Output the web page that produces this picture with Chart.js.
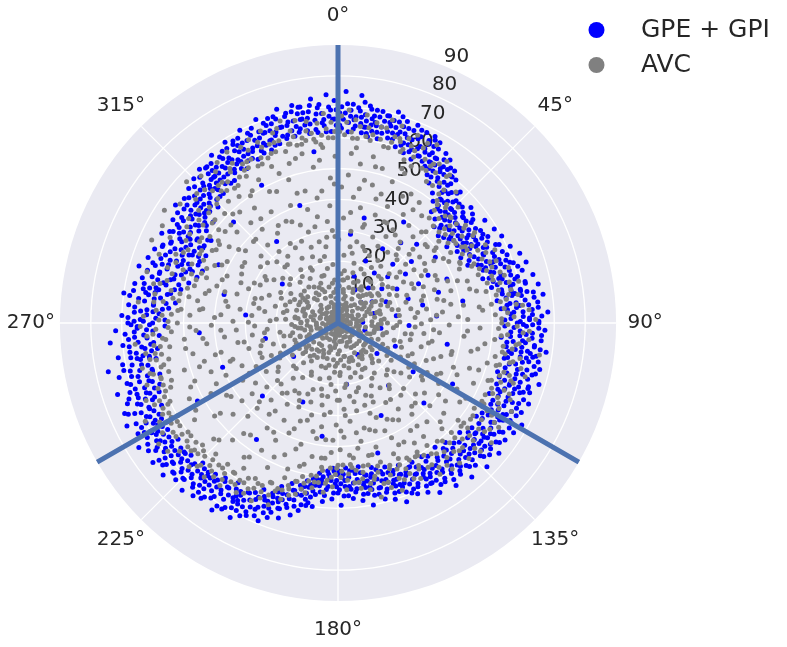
<!DOCTYPE html>
<html>
<head>
<meta charset="utf-8">
<title>Polar scatter</title>
<script src="https://cdn.jsdelivr.net/npm/chart.js@4"></script>
<style>
  body { margin: 0; background: #fff; }
  canvas { display: block; }
</style>
</head>
<body>
<canvas id="polarChart" width="787" height="647"></canvas>
<script>
const angleTicks = [0, 45, 90, 135, 180, 225, 270, 315];
const radialTicks = [10, 20, 30, 40, 50, 60, 70, 80, 90];
const spokeAngles = [0, 120, 240];
const seriesNames = ['GPE + GPI', 'AVC'];

const blueRing = [
  0,66,1,63,1,70,2,68,2,75,3,62,3,65,4,71,5,64,5,67,6,69,6,74,7,62,7,72,8,66,8,64,9,70,9,61,
  10,63,10,68,11,65,12,70,12,61,13,67,13,63,14,69,15,62,15,66,16,71,16,64,17,68,18,60,18,65,19,69,
  20,62,20,67,21,59,22,64,22,69,23,61,24,66,24,58,25,63,25,68,26,60,27,65,27,62,28,67,29,58,29,63,
  30,60,30,65,31,56,31,62,32,58,33,63,33,54,34,59,34,61,35,56,36,62,36,52,37,57,38,60,38,50,39,55,39,58,
  40,47,40,52,41,56,41,49,42,53,43,46,43,58,44,50,44,55,45,44,45,52,46,48,47,55,47,45,48,51,49,43,49,57,
  50,47,50,53,51,44,51,56,52,50,53,45,53,54,54,48,55,58,55,43,56,51,57,46,57,55,58,49,59,59,59,45,59,52,
  60,47,60,56,61,51,62,60,62,45,63,54,64,49,64,58,65,52,66,46,66,61,67,55,68,50,68,59,69,53,69,63,
  70,56,70,50,71,60,72,53,72,64,73,49,73,58,74,62,75,55,75,52,76,65,76,59,77,51,78,62,78,57,79,66,79,54,
  80,60,80,54,81,64,81,57,82,52,82,67,83,61,84,55,84,65,85,58,85,53,86,63,87,68,87,56,88,60,88,66,89,54,89,62,
  90,58,90,65,91,54,91,61,92,67,93,56,93,63,94,59,95,53,95,66,96,61,96,57,97,64,98,55,98,68,99,60,99,63,
  100,57,100,64,101,66,102,55,102,61,103,59,103,67,104,63,105,56,105,65,106,60,107,54,107,68,108,62,109,57,109,65,
  110,59,110,66,111,55,111,63,112,61,113,67,113,57,114,64,115,54,115,60,116,66,117,58,117,63,118,56,119,61,119,68,
  120,57,120,65,121,61,122,55,122,67,123,59,124,63,124,54,125,66,126,58,126,61,127,64,128,55,128,60,129,67,129,57,
  130,62,130,55,131,65,132,59,132,53,133,63,134,57,134,67,135,60,136,54,136,64,137,58,138,62,138,52,139,56,139,66,
  140,60,140,53,141,63,142,57,142,51,143,61,144,55,144,65,145,59,146,52,146,62,147,56,148,60,148,51,149,58,149,64,
  150,54,150,60,151,57,152,51,152,62,153,55,154,59,154,52,155,61,156,54,156,57,157,50,158,59,158,53,159,62,159,56,
  160,52,160,58,161,55,162,49,162,60,163,53,164,57,164,50,165,59,166,52,166,55,167,48,168,57,168,51,169,60,169,54,
  170,50,170,56,171,53,172,47,172,58,173,51,174,55,174,48,175,57,176,50,176,53,177,47,178,56,178,49,179,59,179,52,
  180,49,180,55,181,52,182,47,182,57,183,50,184,54,184,48,185,58,186,51,186,55,187,49,188,53,188,60,189,51,189,57,
  190,54,190,60,191,52,192,57,192,62,193,54,194,59,194,64,195,56,196,61,196,54,197,66,198,58,198,63,199,60,199,56,
  200,62,200,67,201,59,202,64,202,69,203,61,204,66,204,59,205,63,206,68,206,61,207,70,208,65,208,62,209,67,209,72,
  210,63,210,69,211,66,212,71,212,61,213,68,214,64,214,73,215,66,216,70,216,62,217,68,218,72,218,65,219,69,219,63,
  220,67,220,73,221,64,222,70,222,66,223,74,224,68,224,63,225,71,226,66,226,73,227,69,228,64,228,72,229,67,229,75,
  230,70,230,65,231,73,232,67,232,71,233,75,234,64,234,69,235,72,236,66,236,74,237,70,238,65,238,76,239,68,239,72,
  240,64,240,70,241,74,242,67,242,72,243,65,244,76,244,69,245,63,246,72,246,67,247,75,248,64,248,70,249,73,249,62,
  250,66,250,72,251,61,252,69,252,75,253,64,254,71,254,60,255,67,256,73,256,62,257,69,258,76,258,65,259,71,259,60,
  260,66,260,62,261,72,262,59,262,68,263,64,264,70,264,60,265,74,266,66,266,58,267,69,268,62,268,72,269,56,269,65,
  270,68,270,60,271,56,271,64,272,70,273,58,273,66,274,62,275,55,275,68,276,60,277,65,277,53,278,70,278,58,279,63,279,67,
  280,55,280,64,281,60,281,67,282,52,283,58,283,65,284,62,285,50,285,55,286,67,286,60,287,53,288,63,288,48,289,58,289,65,
  290,51,290,61,291,56,291,47,292,64,292,54,293,59,294,49,294,62,295,56,295,52,296,60,297,48,297,64,298,54,298,58,299,61,299,50,
  300,56,300,50,301,60,301,53,302,63,303,57,303,49,304,61,305,55,305,52,306,59,306,65,307,54,308,62,308,57,309,52,309,64,
  310,58,310,63,311,55,312,60,312,65,313,57,314,62,314,54,315,66,315,59,316,63,317,56,317,61,318,67,318,58,319,64,319,60,
  320,62,320,66,321,58,322,64,322,60,323,68,324,62,324,57,325,65,326,60,326,67,327,63,328,59,328,69,329,65,329,61,
  330,64,330,68,331,60,332,66,332,62,333,70,334,63,334,59,335,67,336,61,336,69,337,65,338,62,338,71,339,66,339,60,
  340,68,340,63,341,70,342,65,342,61,343,69,344,66,344,72,345,63,346,70,346,67,347,62,348,72,348,65,349,69,349,64,
  350,67,350,71,351,63,352,69,352,65,353,73,354,62,354,68,355,71,356,66,356,64,357,74,358,69,358,62,359,72,359,66
];

// Second reading of the dense band, filling between the first one
const blueBand = [
  .5,68,.5,64,1.5,66,2.5,71,3.5,67,3.5,69,4.5,63,4.5,66,5.5,70,6.5,65,6.5,67,7.5,68,7.5,64,8.5,71,8.5,62,9.5,67,9.5,65,
  10.5,66,10.5,70,11.5,63,11.5,68,12.5,65,13.5,69,14.5,64,14.5,67,15.5,68,16.5,62,16.5,66,17.5,70,17.5,64,18.5,67,19.5,61,19.5,65,
  20.5,64,21.5,67,21.5,62,22.5,60,23.5,65,23.5,68,24.5,62,25.5,60,26.5,66,26.5,63,27.5,68,27.5,59,28.5,62,28.5,65,29.5,60,29.5,67,
  30.5,58,30.5,62,31.5,60,32.5,65,32.5,56,33.5,60,34.5,57,34.5,64,35.5,59,35.5,61,36.5,55,37.5,60,37.5,62,38.5,54,38.5,57,39.5,52,39.5,60,
  40.5,50,40.5,55,41.5,52,42.5,49,42.5,57,43.5,54,44.5,48,44.5,52,45.5,50,45.5,55,46.5,52,46.5,46,47.5,49,48.5,54,48.5,47,49.5,50,49.5,53,
  50.5,50,51.5,48,51.5,53,52.5,46,52.5,55,53.5,50,54.5,52,54.5,46,55.5,48,55.5,54,56.5,50,57.5,52,57.5,48,58.5,55,58.5,47,59.5,50,59.5,54,
  60.5,52,60.5,49,61.5,55,62.5,48,62.5,53,63.5,57,64.5,52,64.5,47,65.5,55,65.5,50,66.5,58,67.5,52,67.5,49,68.5,56,68.5,54,69.5,51,69.5,58,
  70.5,54,70.5,59,71.5,52,71.5,57,72.5,61,73.5,55,73.5,51,74.5,58,74.5,54,75.5,60,76.5,56,76.5,53,77.5,62,77.5,58,78.5,54,79.5,60,79.5,57,
  80.5,58,80.5,62,81.5,55,81.5,60,82.5,64,83.5,58,83.5,56,84.5,62,84.5,59,85.5,55,85.5,65,86.5,60,86.5,57,87.5,63,88.5,56,88.5,62,89.5,59,89.5,65,
  90.5,60,90.5,63,91.5,57,91.5,65,92.5,59,93.5,61,93.5,66,94.5,56,94.5,63,95.5,60,96.5,64,96.5,55,97.5,60,97.5,66,98.5,58,98.5,62,99.5,56,99.5,65,
  100.5,60,100.5,62,101.5,56,101.5,63,102.5,65,103.5,57,104.5,60,104.5,66,105.5,62,106.5,57,106.5,64,107.5,60,108.5,55,108.5,65,109.5,59,109.5,62,
  110.5,61,110.5,64,111.5,58,112.5,56,112.5,65,113.5,60,114.5,62,114.5,57,115.5,64,116.5,60,116.5,56,117.5,65,118.5,59,118.5,62,119.5,57,119.5,64,
  120.5,60,120.5,62,121.5,57,121.5,65,122.5,60,123.5,56,123.5,64,124.5,60,125.5,62,125.5,56,126.5,65,127.5,59,127.5,61,128.5,63,128.5,57,129.5,60,129.5,64,
  130.5,58,130.5,60,131.5,62,131.5,56,132.5,64,133.5,59,133.5,61,134.5,55,135.5,62,135.5,58,136.5,60,137.5,63,137.5,55,138.5,59,139.5,61,139.5,54,
  140.5,57,140.5,62,141.5,55,141.5,59,142.5,60,143.5,54,143.5,63,144.5,58,145.5,56,145.5,61,146.5,58,147.5,53,147.5,62,148.5,57,149.5,55,149.5,60,
  150.5,56,150.5,58,151.5,53,151.5,60,152.5,55,153.5,58,153.5,52,154.5,56,155.5,53,155.5,59,156.5,60,157.5,56,157.5,53,158.5,57,159.5,54,159.5,51,
  160.5,54,160.5,56,161.5,51,161.5,58,162.5,54,163.5,56,163.5,51,164.5,53,165.5,55,165.5,49,166.5,57,167.5,53,167.5,50,168.5,55,169.5,50,169.5,52,
  170.5,52,170.5,54,171.5,49,171.5,56,172.5,52,173.5,54,173.5,49,174.5,52,175.5,54,175.5,48,176.5,56,177.5,51,177.5,53,178.5,50,179.5,54,179.5,48,
  180.5,51,180.5,53,181.5,48,181.5,55,182.5,51,183.5,53,183.5,49,184.5,56,185.5,52,185.5,50,186.5,53,187.5,56,187.5,51,188.5,55,189.5,53,189.5,59,
  190.5,56,190.5,58,191.5,54,191.5,60,192.5,55,193.5,57,193.5,61,194.5,56,195.5,59,195.5,62,196.5,58,197.5,60,197.5,63,198.5,61,199.5,58,199.5,65,
  200.5,60,200.5,64,201.5,62,201.5,66,202.5,62,203.5,65,203.5,68,204.5,62,205.5,66,205.5,69,206.5,64,207.5,62,207.5,67,208.5,69,209.5,64,209.5,66,
  210.5,65,210.5,67,211.5,63,211.5,70,212.5,66,213.5,64,213.5,71,214.5,67,215.5,63,215.5,69,216.5,66,217.5,64,217.5,71,218.5,67,219.5,65,219.5,71,
  220.5,69,220.5,65,221.5,71,221.5,67,222.5,64,223.5,69,223.5,66,224.5,71,225.5,65,225.5,68,226.5,70,227.5,66,227.5,72,228.5,68,229.5,65,229.5,70,
  230.5,67,230.5,72,231.5,69,231.5,65,232.5,73,233.5,67,233.5,70,234.5,66,235.5,68,235.5,71,236.5,69,237.5,67,237.5,73,238.5,69,239.5,66,239.5,70,
  240.5,67,240.5,72,241.5,68,241.5,65,242.5,70,243.5,68,243.5,73,244.5,66,245.5,70,245.5,67,246.5,74,247.5,69,247.5,65,248.5,67,249.5,69,249.5,65,
  250.5,69,250.5,63,251.5,66,251.5,71,252.5,63,253.5,67,253.5,70,254.5,64,255.5,62,255.5,69,256.5,66,257.5,63,257.5,71,258.5,68,259.5,62,259.5,65,
  260.5,68,260.5,64,261.5,61,261.5,66,262.5,63,263.5,68,263.5,61,264.5,65,265.5,62,265.5,68,266.5,63,267.5,60,267.5,66,268.5,65,269.5,61,269.5,67,
  270.5,63,270.5,66,271.5,59,271.5,68,272.5,62,273.5,60,273.5,64,274.5,57,274.5,66,275.5,60,276.5,63,276.5,56,277.5,60,277.5,68,278.5,62,279.5,56,279.5,60,
  280.5,59,280.5,62,281.5,54,281.5,64,282.5,57,283.5,60,283.5,53,284.5,56,285.5,60,285.5,64,286.5,55,287.5,58,287.5,62,288.5,52,288.5,60,289.5,55,289.5,50,
  290.5,54,290.5,58,291.5,52,291.5,60,292.5,49,293.5,55,293.5,62,294.5,53,294.5,58,295.5,50,295.5,60,296.5,55,296.5,52,297.5,57,298.5,51,298.5,62,299.5,55,299.5,59,
  300.5,53,300.5,58,301.5,56,301.5,61,302.5,50,303.5,54,303.5,60,304.5,56,304.5,63,305.5,58,306.5,53,306.5,62,307.5,58,307.5,60,308.5,55,309.5,60,309.5,56,
  310.5,60,310.5,56,311.5,62,311.5,58,312.5,56,313.5,60,313.5,64,314.5,58,315.5,62,315.5,56,316.5,60,316.5,65,317.5,59,318.5,62,318.5,56,319.5,62,319.5,66,
  320.5,64,320.5,60,321.5,62,321.5,66,322.5,57,323.5,63,323.5,60,324.5,66,325.5,63,325.5,59,326.5,64,327.5,61,327.5,67,328.5,62,329.5,67,329.5,58,
  330.5,66,330.5,62,331.5,64,331.5,68,332.5,60,333.5,66,333.5,62,334.5,68,335.5,63,335.5,65,336.5,60,337.5,67,337.5,63,338.5,66,339.5,69,339.5,63,
  340.5,66,340.5,61,341.5,68,341.5,64,342.5,70,343.5,63,343.5,66,344.5,62,345.5,69,345.5,66,346.5,64,347.5,70,347.5,67,348.5,63,349.5,67,349.5,71,
  350.5,65,350.5,69,351.5,67,351.5,62,352.5,71,353.5,66,353.5,63,354.5,70,355.5,65,355.5,68,356.5,62,357.5,67,357.5,70,358.5,66,359.5,64,359.5,69
];

// Stray blue points well inside the ring
const blueInner = [
  8,29,14,35,19,16,24,22,27,12,31,28,33,39,36,20,38,33,41,15,43,26,45,36,47,22,48,10,50,31,52,18,54,27,56,38,
  58,13,60,22,62,33,64,29,66,17,68,38,71,24,73,34,75,12,78,28,80,41,83,19,86,32,88,8,92,23,97,14,101,36,105,9,
  112,20,118,42,123,29,128,16,133,38,141,26,148,12,155,33,163,44,172,20,188,37,204,28,215,46,226,34,233,18,241,52,
  249,40,258,24,266,45,275,30,284,38,296,43,305,22,314,47,323,33,331,51,342,40,352,56
];

const grayRing = [
  0,63,1,67,2,61,3,69,4,62,5,66,6,60,8,68,9,64,10,60,11,66,13,61,14,65,15,68,16,59,17,63,18,67,19,62,
  20,59,21,64,22,57,23,66,24,61,25,56,26,63,28,60,29,66,30,57,31,60,32,54,33,58,34,63,36,56,37,60,38,53,39,51,
  40,50,41,45,42,57,43,51,44,47,45,49,46,54,47,50,48,44,49,48,50,50,51,42,52,47,53,51,54,44,55,49,56,46,57,52,58,43,59,48,
  60,50,61,46,62,54,63,48,64,44,65,56,66,51,67,47,68,53,69,49,70,53,71,48,72,58,73,52,74,56,75,50,76,54,77,60,78,49,79,57,
  80,52,81,59,82,55,83,50,84,58,85,54,86,62,87,51,88,57,89,64,90,53,91,58,92,52,93,60,94,55,95,62,96,51,97,58,98,54,99,66,
  100,54,101,60,102,52,103,57,104,61,105,53,106,63,107,58,108,55,109,60,110,56,111,52,112,58,113,54,114,61,115,57,116,53,117,63,118,59,119,54,
  120,54,121,58,122,52,123,62,124,56,125,60,126,53,127,57,128,63,129,54,130,52,131,58,132,62,133,55,134,51,135,57,136,61,137,53,138,56,139,60,
  140,50,141,56,142,60,143,53,144,49,145,57,146,59,147,51,148,55,149,50,150,50,151,54,152,57,153,49,154,56,155,52,156,48,157,55,158,51,159,58,
  160,49,161,52,162,56,163,47,164,54,165,50,166,58,167,52,168,47,169,55,170,47,171,51,172,54,173,48,174,52,175,46,176,49,177,54,178,46,179,50,
  180,46,181,49,182,53,183,47,184,51,185,55,186,48,187,52,188,50,189,54,190,50,191,56,192,53,193,51,194,57,195,53,196,58,197,55,198,60,199,53,
  200,57,201,63,202,60,203,56,204,62,205,58,206,64,207,60,208,57,209,63,210,58,211,64,212,60,213,56,214,62,215,59,216,65,217,61,218,58,219,64,
  220,60,221,66,222,62,223,58,224,64,225,61,226,67,227,62,228,59,229,63,230,60,231,66,232,62,233,69,234,60,235,64,236,70,237,61,238,67,239,63,
  240,60,241,66,242,62,243,70,244,63,245,60,246,65,247,61,248,67,249,58,250,62,251,57,252,65,253,60,254,57,255,63,256,59,257,65,258,56,259,62,
  260,58,261,63,262,55,263,60,264,66,265,57,266,62,267,54,268,59,269,64,270,52,271,58,272,63,273,54,274,59,275,51,276,65,277,57,278,52,279,60,
  280,49,281,55,282,61,283,50,284,57,285,64,286,52,287,48,288,58,289,53,290,47,291,62,292,51,293,57,294,66,295,48,296,54,297,61,298,50,299,65,
  300,47,301,56,302,52,303,67,304,50,305,59,306,54,307,64,308,49,309,58,310,52,311,61,312,56,313,67,314,51,315,61,316,56,317,65,318,53,319,59,
  320,56,321,63,322,58,323,65,324,55,325,61,326,57,327,66,328,56,329,60,330,58,331,65,332,60,333,57,334,66,335,59,336,64,337,58,338,67,339,62,
  340,59,341,65,342,62,343,58,344,68,345,60,346,64,347,59,348,67,349,61,350,60,351,66,352,62,353,59,354,65,355,61,356,68,357,60,358,65,359,62
];

const grayInner = [
  2,12,3,34,4,48,5,22,6,57,7,17,7,41,8,30,8,52,9,25,9,11,9,44,11,38,12,15,12,55,13,27,14,46,15,20,15,33,16,52,17,12,17,42,18,26,19,37,
  21,14,21,49,22,30,23,19,23,41,24,53,25,24,26,36,26,11,27,46,28,18,29,32,31,21,31,41,32,13,33,34,34,47,35,17,35,28,36,39,37,11,37,23,38,44,39,31,
  41,20,41,37,42,12,43,28,44,41,45,16,46,32,46,23,47,10,48,38,49,19,49,29,51,14,51,34,52,24,53,39,54,11,54,20,55,30,56,16,57,37,58,25,59,13,59,33,
  61,19,61,41,62,27,63,12,64,35,65,21,66,43,67,15,67,30,68,24,69,38,69,10,71,17,71,33,72,44,73,23,74,11,74,38,75,28,76,18,77,46,78,14,78,35,79,24,
  81,29,81,12,82,41,83,20,84,34,85,15,85,47,86,25,87,39,88,11,88,30,89,20,91,14,91,36,92,46,93,25,94,11,94,31,95,18,96,41,97,28,98,13,98,48,99,22,
  101,31,101,16,102,44,103,24,104,38,105,12,105,50,106,28,107,19,108,35,109,45,109,11,111,22,111,40,112,14,113,31,114,48,115,25,116,12,116,37,117,18,118,28,119,44,119,33,
  121,16,121,38,122,27,123,47,124,11,124,33,125,21,126,43,127,29,128,14,129,36,129,50,131,24,131,11,132,40,133,18,134,46,135,30,136,13,136,36,137,23,138,43,139,17,139,31,
  141,38,141,12,142,27,143,46,144,20,145,34,146,14,146,42,147,25,148,37,149,17,149,30,151,44,151,11,152,23,153,35,154,15,155,41,156,28,157,19,157,46,158,33,159,12,159,25,
  161,37,161,17,162,28,163,42,164,13,165,23,166,35,167,44,167,18,168,29,169,11,169,39,171,24,171,41,172,14,173,32,174,21,175,43,176,12,176,28,177,37,178,17,179,25,179,41,
  181,13,181,33,182,22,183,42,184,16,185,29,186,38,187,12,187,44,188,24,189,34,189,18,191,27,191,44,192,14,193,36,194,22,195,48,196,31,197,12,197,41,198,19,199,27,199,50,
  201,34,201,15,202,46,203,25,204,39,205,11,205,30,206,52,207,19,208,43,209,26,209,36,211,13,211,48,212,31,213,21,214,41,215,15,215,53,216,28,217,37,218,11,218,46,219,23,
  221,33,221,17,222,51,223,27,224,42,225,12,225,36,226,20,227,55,228,31,229,45,229,15,231,25,231,40,232,12,233,50,234,33,235,18,236,56,236,28,237,43,238,13,239,36,239,22,
  241,47,241,16,242,30,243,54,244,24,245,40,246,11,246,34,247,19,248,50,249,27,249,44,251,13,251,36,252,22,253,52,254,30,254,45,255,16,256,39,257,25,258,11,258,48,259,33,
  261,19,261,43,262,28,263,13,263,37,264,50,265,23,266,33,267,46,268,15,268,27,269,41,271,12,271,34,272,22,273,48,274,17,274,38,275,28,276,44,277,14,278,32,279,24,279,46,
  281,18,281,37,282,11,283,28,284,43,285,21,286,34,287,14,287,41,288,26,289,45,289,18,291,31,291,12,292,24,293,39,294,17,295,44,296,28,297,11,297,35,298,21,299,41,299,14,
  301,27,301,46,302,18,303,36,304,12,304,25,305,43,306,31,307,15,308,38,309,23,309,47,311,13,311,33,312,44,313,21,314,38,315,28,316,11,316,49,317,18,318,34,319,25,319,43,
  321,15,321,39,322,52,323,27,324,12,324,46,325,21,326,35,327,51,328,17,329,30,329,42,331,24,331,53,332,13,333,37,334,19,335,47,336,29,337,55,337,11,338,41,339,23,339,34,
  341,16,341,49,342,31,343,54,344,21,345,38,346,12,346,44,347,27,348,56,349,18,349,35,351,25,351,51,352,13,353,43,354,33,355,57,355,19,356,38,357,11,357,47,358,28,359,54
];

// Second reading of the interior, in between the first
const grayFill = [
  .5,27,1.5,44,3.5,16,4.5,55,6.5,36,7.5,14,10.5,47,11.5,23,13.5,52,14.5,32,16.5,17,18.5,44,20.5,25,22.5,54,24.5,36,25.5,15,27.5,28,29.5,48,
  30.5,35,32.5,24,33.5,44,35.5,13,37.5,33,38.5,17,40.5,29,42.5,40,44.5,20,45.5,34,47.5,14,49.5,38,50.5,26,52.5,40,53.5,16,55.5,34,57.5,21,58.5,40,
  60.5,31,62.5,16,63.5,44,65.5,27,66.5,35,68.5,18,70.5,41,72.5,29,73.5,14,75.5,44,76.5,33,77.5,20,80.5,37,82.5,26,83.5,46,85.5,32,86.5,14,88.5,42,
  90.5,27,92.5,19,93.5,42,95.5,33,96.5,12,98.5,24,100.5,46,102.5,30,103.5,15,105.5,38,106.5,21,108.5,48,110.5,33,112.5,26,113.5,42,115.5,16,117.5,36,118.5,23,
  120.5,48,122.5,32,123.5,19,125.5,40,126.5,13,128.5,26,130.5,45,132.5,34,133.5,22,135.5,48,136.5,16,138.5,36,140.5,26,142.5,42,143.5,13,145.5,30,147.5,46,148.5,21,
  150.5,36,152.5,17,153.5,44,155.5,26,156.5,38,158.5,13,160.5,31,162.5,22,163.5,36,165.5,44,166.5,15,168.5,26,170.5,36,172.5,20,173.5,44,175.5,30,177.5,16,178.5,35,
  180.5,25,182.5,38,183.5,14,185.5,44,186.5,20,188.5,30,190.5,38,192.5,24,193.5,47,195.5,15,197.5,33,198.5,43,200.5,23,202.5,37,203.5,12,205.5,48,206.5,28,208.5,18,
  210.5,41,212.5,26,213.5,52,215.5,35,216.5,13,218.5,29,220.5,47,222.5,20,223.5,38,225.5,54,226.5,27,228.5,14,230.5,36,232.5,48,233.5,24,235.5,42,236.5,15,238.5,54,
  240.5,33,242.5,21,243.5,44,245.5,27,246.5,52,248.5,15,250.5,37,252.5,47,253.5,26,255.5,41,256.5,18,258.5,31,260.5,50,262.5,24,263.5,44,265.5,14,266.5,38,268.5,48,
  270.5,29,272.5,40,273.5,20,275.5,45,276.5,13,278.5,36,280.5,26,282.5,44,283.5,17,285.5,38,286.5,28,288.5,12,290.5,40,292.5,34,293.5,20,295.5,30,296.5,42,298.5,16,
  300.5,36,302.5,28,303.5,46,305.5,14,306.5,40,308.5,20,310.5,30,312.5,47,313.5,15,315.5,38,316.5,25,318.5,48,320.5,30,322.5,19,323.5,42,325.5,50,326.5,14,328.5,37,
  330.5,28,332.5,48,333.5,20,335.5,36,336.5,14,338.5,52,340.5,26,342.5,44,343.5,16,345.5,55,346.5,32,348.5,22,350.5,41,352.5,28,353.5,53,355.5,14,356.5,30,358.5,45
];

// Grey half of the dense band, mostly on its inner side
const grayBand = [
  .5,62,2.5,65,4.5,60,6.5,64,8.5,61,10.5,62,12.5,65,14.5,59,16.5,61,18.5,63,20.5,60,22.5,62,24.5,59,26.5,65,28.5,57,
  30.5,59,32.5,61,34.5,54,36.5,59,38.5,55,40.5,48,42.5,52,44.5,44,46.5,50,48.5,46,50.5,45,52.5,52,54.5,46,56.5,53,58.5,47,
  60.5,48,62.5,51,64.5,53,66.5,48,68.5,55,70.5,51,72.5,55,74.5,52,76.5,57,78.5,53,80.5,56,82.5,53,84.5,60,86.5,55,88.5,53,
  90.5,55,92.5,62,94.5,53,96.5,59,98.5,57,100.5,55,102.5,58,104.5,54,106.5,56,108.5,59,110.5,53,112.5,60,114.5,55,116.5,58,118.5,53,
  120.5,56,122.5,60,124.5,53,126.5,59,128.5,52,130.5,56,132.5,60,134.5,53,136.5,57,138.5,51,140.5,54,142.5,58,144.5,52,146.5,55,148.5,49,
  150.5,53,152.5,50,154.5,54,156.5,50,158.5,54,160.5,50,162.5,54,164.5,48,166.5,51,168.5,53,170.5,49,172.5,52,174.5,47,176.5,51,178.5,48,
  180.5,47,182.5,50,184.5,52,186.5,47,188.5,52,190.5,52,192.5,55,194.5,53,196.5,56,198.5,57,200.5,58,202.5,56,204.5,60,206.5,58,208.5,61,
  210.5,60,212.5,62,214.5,59,216.5,63,218.5,60,220.5,63,222.5,60,224.5,65,226.5,60,228.5,62,230.5,63,232.5,60,234.5,62,236.5,64,238.5,61,
  240.5,62,242.5,64,244.5,61,246.5,63,248.5,60,250.5,60,252.5,60,254.5,62,256.5,58,258.5,60,260.5,60,262.5,58,264.5,56,266.5,60,268.5,55,
  270.5,55,272.5,57,274.5,52,276.5,60,278.5,54,280.5,52,282.5,59,284.5,48,286.5,56,288.5,50,290.5,56,292.5,46,294.5,55,296.5,50,298.5,56,
  300.5,52,302.5,58,304.5,47,306.5,56,308.5,52,310.5,55,312.5,62,314.5,55,316.5,59,318.5,57,320.5,59,322.5,55,324.5,60,326.5,62,328.5,58,
  330.5,60,332.5,63,334.5,57,336.5,62,338.5,59,340.5,62,342.5,66,344.5,60,346.5,62,348.5,59,350.5,63,352.5,60,354.5,58,356.5,63,358.5,60
];

// Solid patch round the centre
const grayCentre = [
  0,3,5,6,9,1,13,8,17,4,22,7,26,2,30,9,34,5,38,3,42,8,47,1,51,6,55,4,60,9,64,2,68,7,73,5,77,3,82,8,
  86,1,90,6,95,4,99,9,103,2,108,7,112,5,116,3,121,8,125,1,129,6,134,4,138,9,142,2,147,7,151,5,155,3,160,8,164,1,168,6,
  173,4,177,9,181,2,186,7,190,5,194,3,199,8,203,1,207,6,212,4,216,9,220,2,225,7,229,5,233,3,238,8,242,1,246,6,251,4,255,9,
  259,2,264,7,268,5,272,3,277,8,281,1,285,6,290,4,294,9,298,2,303,7,307,5,311,3,316,8,320,1,324,6,329,4,333,9,337,2,342,7,
  346,5,350,3,355,8,358,1,2,5,11,3,20,5,28,6,37,7,45,4,53,8,62,5,70,3,79,6,88,4,97,7,106,3,114,8,123,5,132,2,
  140,6,149,3,158,5,166,3,175,6,184,4,192,6,201,4,210,2,218,6,227,3,236,6,244,4,253,6,261,4,270,7,279,3,288,6,296,4,305,3,
  313,5,322,3,331,6,340,4,348,6,356,4,10,10,24,12,40,11,58,10,75,9,92,13,110,10,127,11,145,9,162,12,180,10,197,10,214,11,232,10,
  248,10,266,10,283,9,300,11,318,10,335,12,352,10,6,14,33,14,66,11,102,12,137,12,170,11,208,10,240,12,274,10,292,12,326,11,
  15,9,50,10,85,7,118,9,152,9,188,8,222,9,256,7,288,8,310,7,345,9,18,6,70,7,100,6,130,9,155,7,195,9,235,7,262,9,300,6,
  250,13,262,12,278,14,270,12,244,15,258,15,285,11,295,14,232,13,220,14,305,13,120,14,135,15,148,13,105,15,90,16,75,13,60,14,45,13
];

const toPoint = (a, r) => {
  const rad = a * Math.PI / 180;
  return { x: r * Math.sin(rad), y: r * Math.cos(rad) };
};

const pairsToPoints = (list) => {
  const out = [];
  for (let i = 0; i < list.length; i += 2) out.push(toPoint(list[i], list[i + 1]));
  return out;
};

const rMax = radialTicks[radialTicks.length - 1];
const textColor = '#262626';

// Polar frame and tick labels, drawn under the points
const polarFrame = {
  id: 'polarFrame',
  beforeDatasetsDraw(chart) {
    const { ctx, scales: { x, y } } = chart;
    const cx = x.getPixelForValue(0);
    const cy = y.getPixelForValue(0);
    const unit = x.getPixelForValue(1) - cx;

    ctx.save();
    ctx.fillStyle = '#EAEAF2';
    ctx.beginPath();
    ctx.arc(cx, cy, rMax * unit, 0, Math.PI * 2);
    ctx.fill();

    ctx.strokeStyle = '#fff';
    ctx.lineWidth = 1.3;
    radialTicks.slice(0, -1).forEach(r => {
      ctx.beginPath();
      ctx.arc(cx, cy, r * unit, 0, Math.PI * 2);
      ctx.stroke();
    });
    angleTicks.forEach(a => {
      const p = toPoint(a, rMax);
      ctx.beginPath();
      ctx.moveTo(cx, cy);
      ctx.lineTo(x.getPixelForValue(p.x), y.getPixelForValue(p.y));
      ctx.stroke();
    });

    ctx.fillStyle = textColor;
    ctx.font = '20px "DejaVu Sans"';
    ctx.textAlign = 'center';
    ctx.textBaseline = 'middle';
    angleTicks.forEach(a => {
      const p = toPoint(a, 99.4);
      ctx.fillText(a + '°', x.getPixelForValue(p.x), y.getPixelForValue(p.y));
    });
    radialTicks.forEach(r => {
      const p = toPoint(22.5, r);
      ctx.fillText(String(r), x.getPixelForValue(p.x) + 12, y.getPixelForValue(p.y) - 9.5);
    });
    ctx.restore();
  },
  afterDatasetsDraw(chart) {
    const { ctx } = chart;
    const rows = [
      { label: seriesNames[0], color: '#0000FF', y: 30 },
      { label: seriesNames[1], color: '#808080', y: 65 }
    ];
    ctx.save();
    ctx.font = '25px "DejaVu Sans"';
    ctx.textAlign = 'left';
    ctx.textBaseline = 'middle';
    rows.forEach(row => {
      ctx.fillStyle = row.color;
      ctx.beginPath();
      ctx.arc(596.5, row.y, 8, 0, Math.PI * 2);
      ctx.fill();
      ctx.fillStyle = textColor;
      ctx.fillText(row.label, 641, row.y + 0.5);
    });
    ctx.restore();
  }
};

const spokeData = [];
spokeAngles.forEach(a => {
  spokeData.push(toPoint(a, 0), toPoint(a, rMax));
  spokeData.push({ x: NaN, y: NaN });
});

new Chart(document.getElementById('polarChart'), {
  type: 'scatter',
  data: {
    datasets: [
      {
        label: 'spokes',
        data: spokeData,
        showLine: true,
        spanGaps: false,
        borderColor: '#4C72B0',
        borderWidth: 5,
        pointRadius: 0
      },
      {
        label: seriesNames[1],
        data: pairsToPoints(grayRing.concat(grayBand, grayInner, grayFill, grayCentre)),
        backgroundColor: '#808080',
        borderWidth: 0,
        pointRadius: 2.5
      },
      {
        label: seriesNames[0],
        data: pairsToPoints(blueRing.concat(blueBand, blueInner)),
        backgroundColor: '#0000FF',
        borderWidth: 0,
        pointRadius: 2.5
      }
    ]
  },
  plugins: [polarFrame],
  options: {
    responsive: false,
    animation: false,
    layout: { padding: 0, autoPadding: false },
    plugins: { legend: { display: false }, tooltip: { enabled: false } },
    scales: {
      x: { type: 'linear', display: false, min: -109.39, max: 145.31 },
      y: { type: 'linear', display: false, min: -104.85, max: 104.53 }
    }
  }
});
</script>
</body>
</html>
